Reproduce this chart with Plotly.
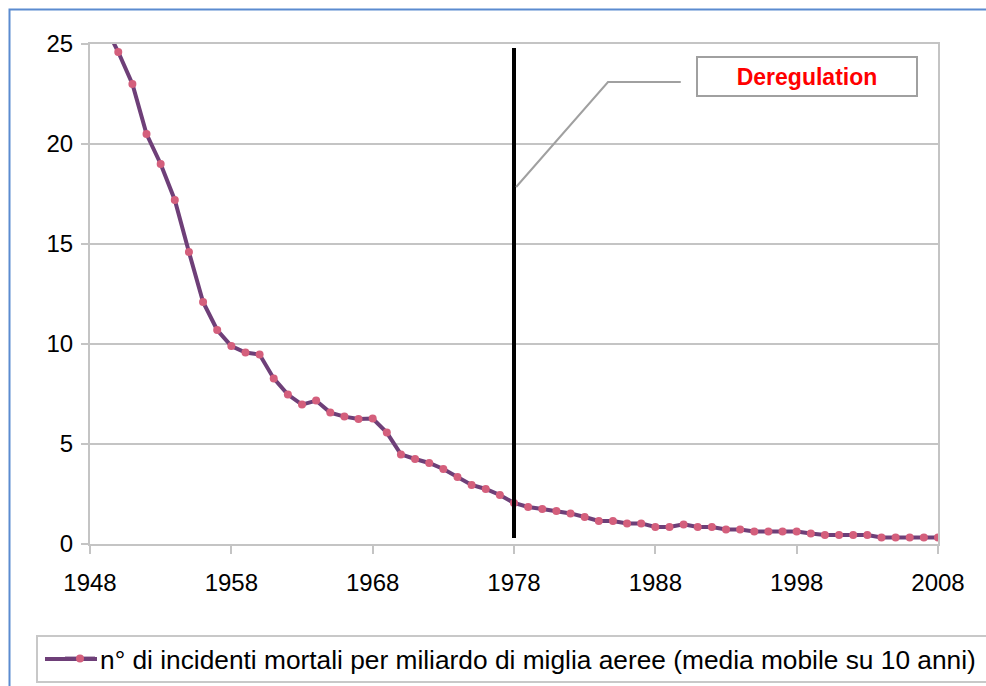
import plotly.graph_objects as go

years = list(range(1949, 2009))
incidents = [
    26.0, 24.6, 23.0, 20.5, 19.0, 17.2, 14.6, 12.1, 10.7, 9.9,
    9.57, 9.47, 8.28, 7.47, 6.97, 7.17, 6.57, 6.37, 6.25, 6.27,
    5.57, 4.48, 4.25, 4.05, 3.75, 3.35, 2.95, 2.75, 2.45, 2.05,
    1.85, 1.75, 1.65, 1.53, 1.35, 1.15, 1.15, 1.03, 1.03, 0.85,
    0.85, 0.98, 0.85, 0.85, 0.73, 0.73, 0.63, 0.63, 0.63, 0.63,
    0.53, 0.45, 0.45, 0.45, 0.45, 0.33, 0.33, 0.33, 0.33, 0.33,
]
series_name = "n° di incidenti mortali per miliardo di miglia aeree (media mobile su 10 anni)"
x_ticks = [1948, 1958, 1968, 1978, 1988, 1998, 2008]
y_ticks = [0, 5, 10, 15, 20, 25]
dereg_year = 1978
dereg_label = "Deregulation"

FONT = "Liberation Sans"
GRID = "#c4c4c4"
LINE_COLOR = "#6e3f78"
MARKER_COLOR = "#d45f7c"
# figure is a little larger than the window (the chart frame runs off the
# right/bottom edge in the original); the extra strip outside the window is hidden
W, H = 1004, 720


def px(a):
    """page x -> paper x"""
    return (a - 90) / 848


def py(a):
    """page y -> paper y"""
    return (544 - a) / 500


fig = go.Figure()
fig.add_trace(go.Scatter(
    x=years, y=incidents, mode="lines+markers", name=series_name,
    line=dict(color=LINE_COLOR, width=4),
    marker=dict(color=MARKER_COLOR, size=8),
))

fig.update_layout(
    width=W, height=H,
    margin=dict(l=90, r=W - 938, t=44, b=H - 544),
    paper_bgcolor="white", plot_bgcolor="white",
    font=dict(family=FONT, size=24, color="black"),
    showlegend=True,
    legend=dict(
        x=px(60), y=py(659), xanchor="left", yanchor="middle",
        bgcolor="rgba(0,0,0,0)", borderwidth=0,
        font=dict(family=FONT, size=26.3, color="black"),
    ),
    xaxis=dict(
        range=[1948, 2008], tickvals=x_ticks, ticktext=[str(v) for v in x_ticks],
        showgrid=False, zeroline=False,
        showline=True, linecolor=GRID, linewidth=2, mirror=True,
        ticks="outside", ticklen=8, tickwidth=2, tickcolor=GRID,
        ticklabelstandoff=8,
    ),
    yaxis=dict(
        range=[0, 25], tickvals=y_ticks,
        showgrid=True, gridcolor=GRID, gridwidth=2, zeroline=False,
        showline=True, linecolor=GRID, linewidth=2, mirror=True,
        ticks="outside", ticklen=7, tickwidth=2, tickcolor=GRID,
        ticklabelstandoff=3,
    ),
)

# vertical deregulation line
fig.add_shape(type="line", xref="x", yref="y", x0=dereg_year, x1=dereg_year,
              y0=0.3, y1=24.8, line=dict(color="black", width=4))

# leader line of callout
fig.add_shape(type="path", xref="x", yref="y",
              path="M 1978.15,17.85 L 1984.65,23.1 L 1989.8,23.1",
              line=dict(color="#a0a0a0", width=2))

# callout box with text
fig.add_annotation(
    xref="paper", yref="paper", xanchor="center", yanchor="middle",
    x=px(806.5), y=py(77),
    text="<b>" + dereg_label + "</b>", showarrow=False,
    font=dict(family=FONT, size=23, color="#ff0000"),
    width=216, height=35, bordercolor="#a0a0a0", borderwidth=2, bgcolor="white",
)

# legend frame
fig.add_shape(type="rect", xref="paper", yref="paper",
              x0=px(37), x1=px(1000), y0=py(682), y1=py(636),
              line=dict(color="#c8c8c8", width=2), layer="below")

# legend sample line (wider like the original)
fig.add_shape(type="line", xref="paper", yref="paper",
              x0=px(45), x1=px(97), y0=py(659), y1=py(659),
              line=dict(color=LINE_COLOR, width=4), layer="below")

# outer chart border
fig.add_shape(type="rect", xref="paper", yref="paper",
              x0=px(9.5), x1=px(1002), y0=py(715), y1=py(9.5),
              line=dict(color="#5b8bd0", width=2), layer="below")

fig.write_html(
    "out.html",
    config={"displayModeBar": False},
    post_script="document.body.style.margin='0';document.body.style.overflow='hidden';",
)
